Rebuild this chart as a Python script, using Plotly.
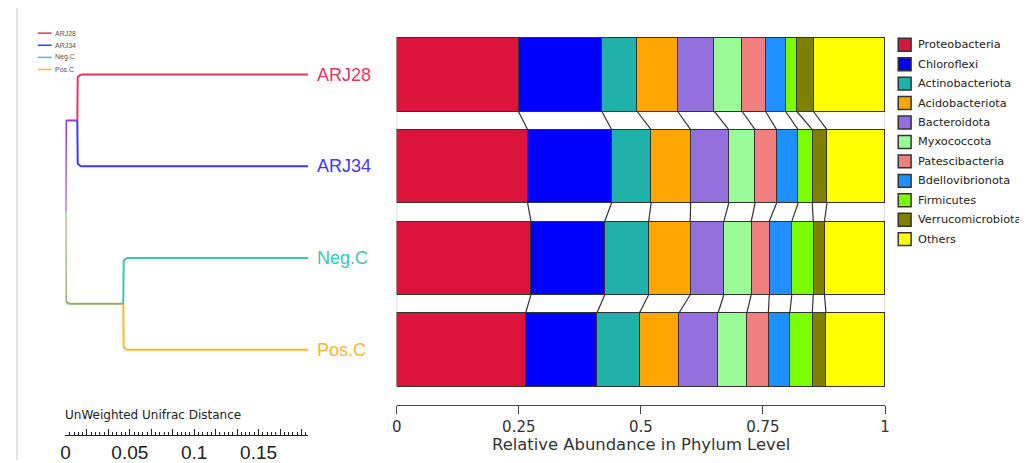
import math
import plotly.graph_objects as go

# ---------------- data ----------------
samples = ["ARJ28", "ARJ34", "Neg.C", "Pos.C"]
phyla = ["Proteobacteria", "Chloroflexi", "Actinobacteriota", "Acidobacteriota",
         "Bacteroidota", "Myxococcota", "Patescibacteria", "Bdellovibrionota",
         "Firmicutes", "Verrucomicrobiota", "Others"]
phylum_colors = ["#DC143C", "#0000FF", "#20B2AA", "#FFA500", "#9370DB", "#98FB98",
                 "#F08080", "#1E90FF", "#7CFC00", "#808000", "#FFFF00"]

abund_ARJ28 = [0.249, 0.171, 0.072, 0.083, 0.075, 0.057, 0.048, 0.041, 0.023, 0.034, 0.147]
abund_ARJ34 = [0.268, 0.172, 0.081, 0.081, 0.078, 0.054, 0.044, 0.044, 0.029, 0.030, 0.119]
abund_NegC = [0.275, 0.151, 0.090, 0.085, 0.069, 0.056, 0.037, 0.046, 0.044, 0.023, 0.124]
abund_PosC = [0.264, 0.146, 0.087, 0.081, 0.080, 0.059, 0.044, 0.044, 0.046, 0.028, 0.121]
abund = [abund_ARJ28, abund_ARJ34, abund_NegC, abund_PosC]

sample_colors = ["#E5375E", "#3A3AF4", "#3EC6B5", "#FFB533"]
root_upper_color = "#9A3FC9"
root_lower_color = "#8DAF5E"

# UniFrac tree: cluster node heights (distance from root), leaves distance
cluster_members = [(0, 1), (2, 3)]
cluster_heights = [0.0092, 0.0449]
leaf_distance = 0.1885

bar_ticks = [0, 0.25, 0.5, 0.75, 1]
bar_ticktext = ["0", "0.25", "0.5", "0.75", "1"]
tree_labels = ["0", "0.05", "0.1", "0.15"]

# ---------------- page geometry ----------------
OFF = 8                      # default body margin of the html page
W, H = 1027 - OFF, 463 - OFF
FONT = "Liberation Sans, Arial, sans-serif"
WFONT = "DejaVu Sans, Verdana, sans-serif"
px_per_dist = 1300.0
px_per_row = 92.33


def PX(x):
    return (x - OFF) / W


def PY(y):
    return 1 - (y - OFF) / H


def corner_path(x_start, y_start, x_corner, y_corner, x_end, y_end, r_px=5):
    """vertical from start to corner, then horizontal to end, with rounded corner"""
    rx = r_px / px_per_dist
    ry = r_px / px_per_row
    sy = 1 if y_corner > y_start else -1
    sx = 1 if x_end > x_corner else -1
    xs = [x_start, x_corner]
    ys = [y_start, y_corner - sy * ry]
    n = 8
    for k in range(1, n + 1):
        t = (math.pi / 2) * k / n
        xs.append(x_corner + sx * rx * (1 - math.cos(t)))
        ys.append(y_corner - sy * ry * (1 - math.sin(t)))
    xs.append(x_end)
    ys.append(y_end)
    return xs, ys


fig = go.Figure()

# ---------------- stacked bars ----------------
for j, ph in enumerate(phyla):
    fig.add_trace(go.Bar(
        x=[abund[i][j] for i in range(len(samples))],
        y=list(range(len(samples))),
        orientation="h", width=0.8, name=ph,
        marker=dict(color=phylum_colors[j], line=dict(color="#333333", width=1)),
        xaxis="x", yaxis="y", hoverinfo="x+name",
    ))

# connectors between adjacent bars
cx, cy = [], []
for i in range(len(samples) - 1):
    c1 = 0.0
    c2 = 0.0
    for j in range(len(phyla) - 1):
        c1 += abund[i][j]
        c2 += abund[i + 1][j]
        cx += [c1, c2, None]
        cy += [i + 0.4, i + 0.6, None]
fig.add_trace(go.Scatter(x=cx, y=cy, mode="lines", line=dict(color="#333333", width=1.2),
                         xaxis="x", yaxis="y", hoverinfo="skip"))

# ---------------- dendrogram ----------------
rootA_y = sum(cluster_members[0]) / 2
rootB_y = sum(cluster_members[1]) / 2
root_mid = (rootA_y + rootB_y) / 2
xs, ys = corner_path(0, root_mid, 0, rootA_y, cluster_heights[0], rootA_y, r_px=2)
fig.add_trace(go.Scatter(x=xs, y=ys, mode="lines", line=dict(color=root_upper_color, width=2),
                         xaxis="x2", yaxis="y", hoverinfo="skip"))
xs, ys = corner_path(0, root_mid, 0, rootB_y, cluster_heights[1], rootB_y)
fig.add_trace(go.Scatter(x=xs, y=ys, mode="lines", line=dict(color=root_lower_color, width=2),
                         xaxis="x2", yaxis="y", hoverinfo="skip"))
for c, members in enumerate(cluster_members):
    mid = sum(members) / 2
    for m in members:
        xs, ys = corner_path(cluster_heights[c], mid, cluster_heights[c], m, leaf_distance, m)
        fig.add_trace(go.Scatter(x=xs, y=ys, mode="lines",
                                 line=dict(color=sample_colors[m], width=2),
                                 xaxis="x2", yaxis="y", hoverinfo="skip"))

annotations = []
shapes = []
for i, s in enumerate(samples):
    annotations.append(dict(x=PX(313), y=i, xref="paper", yref="y",
                            text=s, showarrow=False, xanchor="left", yanchor="middle",
                            font=dict(family=FONT, size=18, color=sample_colors[i])))

# tree legend (top-left)
for i, s in enumerate(samples):
    yp = PY(33.3 + 12.2 * i)
    shapes.append(dict(type="line", xref="paper", yref="paper", x0=PX(33), x1=PX(47),
                       y0=yp, y1=yp, line=dict(color=sample_colors[i], width=1.5)))
    annotations.append(dict(x=PX(48), y=yp, xref="paper", yref="paper", text=s,
                            showarrow=False, xanchor="left", yanchor="middle",
                            font=dict(family=FONT, size=7, color="#555555")))

# phylum legend (right)
for j, ph in enumerate(phyla):
    yc = 45 + 19.57 * j
    shapes.append(dict(type="rect", xref="paper", yref="paper",
                       x0=PX(902), x1=PX(915), y0=PY(yc - 6.5), y1=PY(yc + 6.5),
                       fillcolor=phylum_colors[j], line=dict(color="#333333", width=1.5)))
    annotations.append(dict(x=PX(919.5), y=PY(yc), xref="paper", yref="paper", text=ph,
                            showarrow=False, xanchor="left", yanchor="middle",
                            font=dict(family=WFONT, size=11.3, color="#222222")))

# outline box around bar block
shapes.append(dict(type="rect", xref="x", yref="y", x0=0, x1=1, y0=-0.4, y1=len(samples) - 0.6,
                   line=dict(color="#b5b5b5", width=1), layer="below"))
# left gray rule
shapes.append(dict(type="line", xref="paper", yref="paper", x0=PX(12), x1=PX(12),
                   y0=0, y1=PY(5), line=dict(color="#e3e3e3", width=2)))

annotations.append(dict(x=PX((395.5 + 888.7) / 2), y=PY(447), xref="paper", yref="paper",
                        text="Relative Abundance in Phylum Level", showarrow=False,
                        xanchor="center", yanchor="middle",
                        font=dict(family=WFONT, size=16.4, color="#333333")))
annotations.append(dict(x=PX(58), y=PY(418), xref="paper", yref="paper",
                        text="UnWeighted Unifrac Distance", showarrow=False,
                        xanchor="left", yanchor="middle",
                        font=dict(family=WFONT, size=12, color="#222222")))

tree_tickvals = [k / 60 for k in range(12)]
tree_ticktext = [tree_labels[k // 3] if k % 3 == 0 else "" for k in range(12)]

tree_x0_px, tree_x1_px = 61, 306
fig.update_layout(
    width=W, height=H, margin=dict(l=0, r=0, t=0, b=0),
    paper_bgcolor="white", plot_bgcolor="white", showlegend=False,
    barmode="stack", bargap=0,
    xaxis=dict(domain=[PX(395.5), PX(888.7)], range=[0, 1], anchor="free",
               position=PY(408), showline=True, linecolor="#444444", linewidth=1,
               ticks="outside", ticklen=8, tickcolor="#444444", tickvals=bar_ticks,
               ticktext=bar_ticktext, tickfont=dict(family=WFONT, size=15, color="#333333"),
               showgrid=False, zeroline=False, fixedrange=True),
    yaxis=dict(domain=[PY(398.17), PY(28.83)], range=[3.5, -0.5],
               visible=False, fixedrange=True),
    xaxis2=dict(domain=[PX(tree_x0_px), PX(tree_x1_px)],
                range=[0, (tree_x1_px - tree_x0_px) / px_per_dist], anchor="free",
                position=PY(438), showline=True, linecolor="#222222", linewidth=1,
                ticks="inside", ticklen=6, tickcolor="#222222", tickvals=tree_tickvals,
                ticktext=tree_ticktext, tickfont=dict(family=FONT, size=19, color="#222222"),
                ticklabelstandoff=0,
                minor=dict(tickmode="linear", tick0=0, dtick=1 / 300, ticks="inside",
                           ticklen=3, tickcolor="#222222", showgrid=False),
                showgrid=False, zeroline=False, fixedrange=True),
    shapes=shapes, annotations=annotations,
)

fig.write_html("out.html")
